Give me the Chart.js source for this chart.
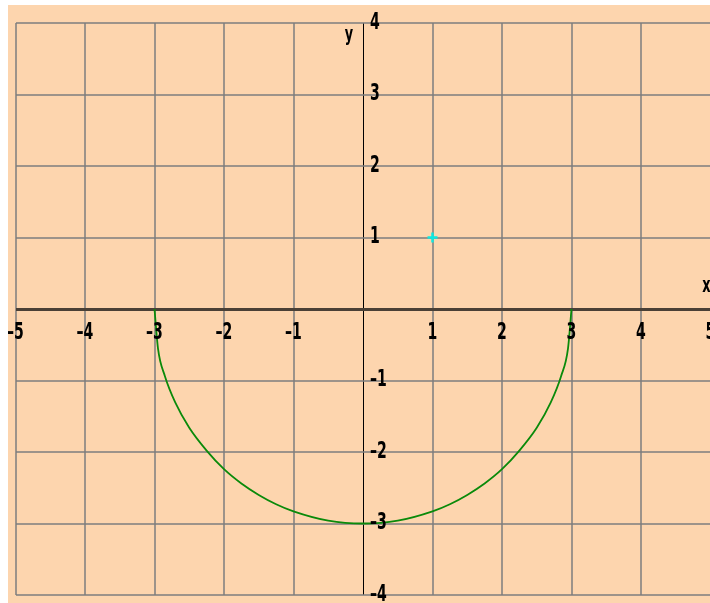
<!DOCTYPE html>
<html>
<head>
<meta charset="utf-8">
<script src="https://cdn.jsdelivr.net/npm/chart.js@4"></script>
<style>
  html, body { margin: 0; padding: 0; background: #fff; overflow: hidden; }
  #graph { position: absolute; left: 8px; top: 5px; background: #fdd5ae; }
</style>
</head>
<body>
<canvas id="graph" width="710" height="598"></canvas>
<script>
// lower half of the circle
const curveX = [-3, -2.95, -2.85, -2.7, -2.5, -2.25, -2, -1.75, -1.5, -1.25, -1, -0.5, 0,
                0.5, 1, 1.25, 1.5, 1.75, 2, 2.25, 2.5, 2.7, 2.85, 2.95, 3];
const curveY = [0, -0.55, -0.94, -1.31, -1.66, -1.98, -2.24, -2.44, -2.6, -2.73, -2.83, -2.96, -3,
                -2.96, -2.83, -2.73, -2.6, -2.44, -2.24, -1.98, -1.66, -1.31, -0.94, -0.55, 0];
const markX = [1];
const markY = [1];
const xTicks = [-5, -4, -3, -2, -1, 1, 2, 3, 4, 5];
const yTicks = [-4, -3, -2, -1, 1, 2, 3, 4];

const labelFont = 'bold 23px "Liberation Sans Narrow", "DejaVu Sans Condensed", sans-serif';

// tick labels sit next to the axes, not at the chart edges
const axisLabels = {
    id: 'axisLabels',
    afterDraw(chart) {
        const c = chart.ctx;
        const xs = chart.scales.x, ys = chart.scales.y;
        const x0 = xs.getPixelForValue(0), y0 = ys.getPixelForValue(0);
        c.save();
        c.fillStyle = '#000';
        c.font = labelFont;
        c.textBaseline = 'middle';
        const draw = (txt, x, y, align) => {
            c.save();
            c.translate(x, y);
            c.scale(0.68, 1);
            c.textAlign = align;
            c.fillText(txt, 0, 0);
            c.restore();
        };
        xTicks.forEach(v => draw(String(v).replace('-', '\u2013'), xs.getPixelForValue(v), y0 + 24, 'center'));
        yTicks.forEach(v => draw(String(v).replace('-', '\u2013'), x0 + 7, ys.getPixelForValue(v), 'left'));
        c.font = 'bold 21px "Liberation Sans Narrow", "DejaVu Sans Condensed", sans-serif';
        draw('y', x0 - 14, ys.getPixelForValue(3.82), 'center');
        draw('x', xs.getPixelForValue(4.94), y0 - 22, 'center');
        c.restore();
    }
};

new Chart(document.getElementById('graph'), {
    type: 'scatter',
    data: {
        datasets: [{
            data: curveX.map((x, i) => ({x: x, y: curveY[i]})),
            showLine: true,
            borderColor: '#0a8a0a',
            borderWidth: 1.8,
            pointRadius: 0,
            tension: 0.4,
            cubicInterpolationMode: 'monotone'
        }, {
            data: markX.map((x, i) => ({x: x, y: markY[i]})),
            pointStyle: 'cross',
            pointRadius: 5,
            borderColor: '#10e8e0',
            borderWidth: 2.5
        }]
    },
    options: {
        responsive: false,
        animation: false,
        layout: { padding: { left: 7, top: 18, right: 0, bottom: 8 } },
        plugins: { legend: { display: false }, tooltip: { enabled: false } },
        scales: {
            x: {
                type: 'linear', min: -5, max: 5,
                ticks: { stepSize: 1, display: false },
                border: { display: false },
                grid: {
                    drawTicks: false,
                    color: ctx => ctx.tick && ctx.tick.value === 0 ? '#000' : 'rgba(125,125,125,0.75)',
                    lineWidth: ctx => ctx.tick && ctx.tick.value === 0 ? 1 : 2
                }
            },
            y: {
                type: 'linear', min: -4, max: 4,
                ticks: { stepSize: 1, display: false },
                border: { display: false },
                grid: {
                    drawTicks: false,
                    color: ctx => ctx.tick && ctx.tick.value === 0 ? '#4a4036' : 'rgba(125,125,125,0.75)',
                    lineWidth: ctx => ctx.tick && ctx.tick.value === 0 ? 3 : 2
                }
            }
        }
    },
    plugins: [axisLabels]
});
</script>
</body>
</html>
